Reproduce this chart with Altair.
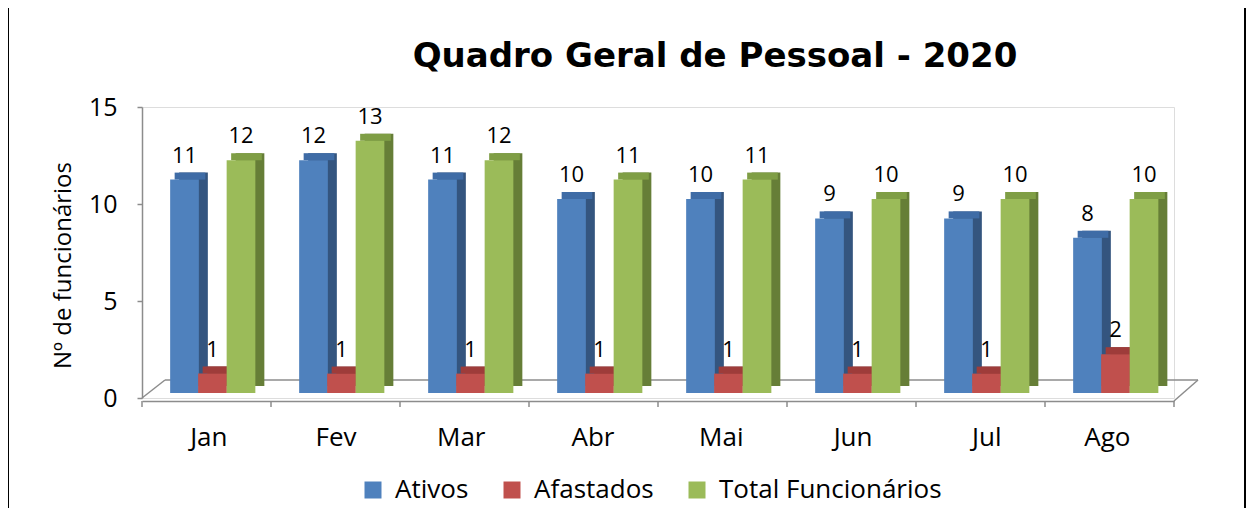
import altair as alt
import pandas as pd

months = ["Jan", "Fev", "Mar", "Abr", "Mai", "Jun", "Jul", "Ago"]
series = ["Ativos", "Afastados", "Total Funcionários"]
ativos = [11, 12, 11, 10, 10, 9, 9, 8]
afastados = [1, 1, 1, 1, 1, 1, 1, 2]
total = [12, 13, 12, 11, 11, 10, 10, 10]

front_colors = ["#4F81BD", "#C0504D", "#9BBB59"]
side_colors = ["#34557F", "#7F312F", "#667E37"]
top_colors = ["#3F6CA6", "#9E3C3A", "#7F9E45"]
bar_shift = [-22, 6, 34.5]   # pixel shift of each series inside its month band

rows = []
for i, m in enumerate(months):
    for s, vals in zip(series, [ativos, afastados, total]):
        rows.append({"month": m, "series": s, "value": vals[i]})
df = pd.DataFrame(rows)

FONT = "Open Sans"
GRAY = "#8C8C8C"
BW = 28.7      # bar width
DX, DY = 9, -7  # 3D depth
LIFT = -5      # bars sit slightly above the front floor edge

x_enc = alt.X("month:N", sort=months, title=None,
              scale=alt.Scale(paddingInner=0, paddingOuter=0),
              axis=alt.Axis(ticks=False, domain=True, domainColor=GRAY, domainWidth=1.5,
                            offset=3, labelFontSize=26, labelFont=FONT, labelColor="black",
                            labelPadding=36, labelAngle=0, labelOffset=21))
y_scale = alt.Scale(domain=[0, 15], nice=False, zero=True)
y_axis = alt.Axis(values=[0, 5, 10, 15], tickSize=5, tickColor=GRAY, tickWidth=1.5,
                  domainColor=GRAY, domainWidth=1.5, grid=False,
                  labelFontSize=25, labelFont=FONT, labelColor="black", labelPadding=20,
                  title="Nº de funcionários", titleFontSize=24, titleFont=FONT,
                  titleFontWeight="normal", titleColor="black",
                  titleX=-79, titleY=158, titleAngle=-90, titleBaseline="middle",
                  titleAlign="center")

series_scale_front = alt.Scale(domain=series, range=front_colors)
legend = alt.Legend(orient="none", legendX=218, legendY=370, direction="horizontal",
                    symbolType="square", symbolSize=289, symbolStrokeWidth=0,
                    labelFontSize=26, labelFont=FONT, labelColor="black", labelLimit=0,
                    columnPadding=30, labelOffset=9)

Y = lambda: alt.Y("value:Q", scale=y_scale, axis=y_axis)

sides, tops, fronts, labels = [], [], [], []
for k, s in enumerate(series):
    sub = alt.Chart(df).transform_filter(alt.datum.series == s)
    sides.append(sub.mark_bar(width=BW, xOffset=bar_shift[k] + DX, yOffset=LIFT + DY,
                              y2Offset=LIFT + DY, color=side_colors[k]).encode(
        x=x_enc, y=Y(), y2=alt.datum(0)))
    tops.append(sub.mark_bar(width=BW + 2, xOffset=bar_shift[k] + DX / 2 + 1,
                             yOffset=LIFT + DY, y2Offset=LIFT, color=top_colors[k]).encode(
        x=x_enc, y=Y(), y2=alt.Y2("value:Q")))
    fronts.append(sub.mark_bar(width=BW, xOffset=bar_shift[k], yOffset=LIFT,
                               y2Offset=LIFT).encode(
        x=x_enc, y=Y(), y2=alt.datum(0),
        color=alt.Color("series:N", sort=series, title=None, scale=series_scale_front,
                        legend=legend)))
    labels.append(sub.mark_text(xOffset=bar_shift[k], dy=-22, baseline="alphabetic",
                                fontSize=22, font=FONT, color="black").encode(
        x=x_enc, y=Y(), text="value:Q"))

one = alt.Chart(pd.DataFrame({"k": [0]}))
y0 = alt.YDatum(0, scale=y_scale, axis=y_axis)
floor_left = one.mark_rule(color=GRAY, strokeWidth=1.5, x2Offset=23, y2Offset=-18).encode(
    x=alt.datum("Jan", bandPosition=0), x2=alt.datum("Jan", bandPosition=0),
    y=y0, y2=alt.datum(0))
floor_back = one.mark_rule(color=GRAY, strokeWidth=1.5, xOffset=23, x2Offset=24,
                           yOffset=-18, y2Offset=-18).encode(
    x=alt.datum("Jan", bandPosition=0), x2=alt.datum("Ago", bandPosition=1),
    y=y0, y2=alt.datum(0))
floor_right = one.mark_rule(color=GRAY, strokeWidth=1.5, yOffset=3, x2Offset=24,
                            y2Offset=-18).encode(
    x=alt.datum("Ago", bandPosition=1), x2=alt.datum("Ago", bandPosition=1),
    y=y0, y2=alt.datum(0))
ticks = alt.Chart(pd.DataFrame({"month": months})).mark_rule(
    color=GRAY, strokeWidth=1.5, yOffset=3, y2Offset=9).encode(
    x=alt.X("month:N", sort=months, bandPosition=0), y=y0, y2=alt.datum(0))
last_tick = one.mark_rule(color=GRAY, strokeWidth=1.5, yOffset=3, y2Offset=9).encode(
    x=alt.datum("Ago", bandPosition=1), y=y0, y2=alt.datum(0))

title = one.mark_text(text="Quadro Geral de Pessoal - 2020", fontSize=34,
                      fontWeight="bold", font="DejaVu Sans", color="black",
                      align="center", baseline="alphabetic").encode(
    x=alt.value(573), y=alt.value(-40))

border = one.mark_rect(fillOpacity=0, stroke="black", strokeWidth=2).encode(
    x=alt.value(-134), x2=alt.value(1103), y=alt.value(-100), y2=alt.value(420))

chart = alt.layer(
    border, floor_left, floor_back, floor_right, ticks, last_tick,
    *sides, *tops, *fronts, *labels, title
).properties(
    width=1032, height=291,
    padding={"left": 134, "top": 99, "right": 78, "bottom": 110},
    autosize=alt.AutoSizeParams(type="none"),
).configure_view(stroke=None).configure(background="white")

chart.save("out.html", embed_options={"renderer": "svg", "actions": False})
